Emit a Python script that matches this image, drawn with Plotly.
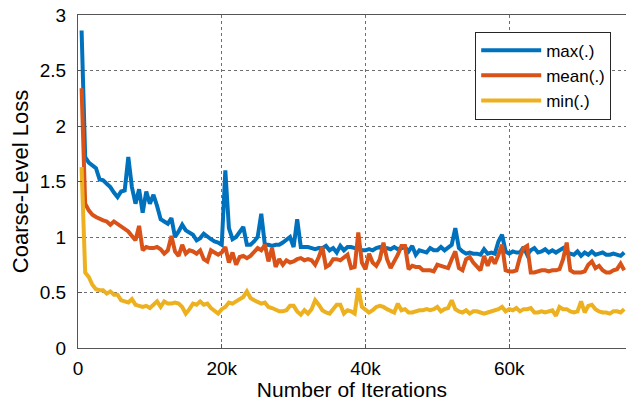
import plotly.graph_objects as go

iterations = [500 * k for k in range(1, 153)]

max_loss = [
    2.86, 1.72, 1.67, 1.64, 1.62, 1.52, 1.51, 1.48, 1.45, 1.40,
    1.36, 1.41, 1.42, 1.72, 1.45, 1.30, 1.43, 1.22, 1.41, 1.30,
    1.38, 1.28, 1.16, 1.14, 1.12, 1.17, 1.00, 1.05, 1.11, 1.06,
    1.04, 1.02, 0.97, 0.99, 1.03, 1.00, 0.98, 0.96, 0.95, 0.93,
    1.60, 1.08, 0.98, 1.00, 1.05, 1.09, 0.93, 0.93, 0.96, 1.00,
    1.21, 0.93, 0.93, 0.92, 0.93, 0.93, 0.95, 0.97, 1.00, 0.91,
    1.16, 0.91, 0.91, 0.91, 0.90, 0.89, 0.90, 0.90, 0.92, 0.88,
    0.90, 0.86, 0.92, 0.88, 0.91, 0.91, 0.90, 0.90, 0.88, 0.88,
    0.89, 0.88, 0.90, 0.91, 0.88, 0.90, 0.89, 0.91, 0.89, 0.90,
    0.91, 0.87, 0.92, 0.84, 0.88, 0.87, 0.86, 0.90, 0.88, 0.88,
    0.91, 0.88, 0.90, 0.93, 1.08, 0.90, 0.87, 0.85, 0.86, 0.85,
    0.85, 0.84, 0.89, 0.85, 0.86, 0.85, 0.96, 1.02, 0.87, 0.85,
    0.87, 0.86, 0.86, 0.91, 0.84, 0.88, 0.90, 0.86, 0.87, 0.89,
    0.86, 0.88, 0.86, 0.88, 0.90, 0.86, 0.85, 0.84, 0.87, 0.83,
    0.86, 0.84, 0.87, 0.84, 0.85, 0.86, 0.84, 0.84, 0.85, 0.84,
    0.83, 0.86,
]

mean_loss = [
    2.34, 1.30, 1.24, 1.20, 1.18, 1.16, 1.15, 1.14, 1.11, 1.14,
    1.12, 1.10, 1.08, 1.05, 1.01, 0.97, 1.10, 0.88, 0.91, 0.90,
    0.90, 0.91, 0.89, 0.85, 0.88, 1.01, 0.87, 0.83, 0.93, 0.85,
    0.88, 0.87, 0.85, 0.88, 0.80, 0.78, 0.88, 0.86, 0.84, 0.86,
    0.91, 0.77, 0.86, 0.75, 0.82, 0.83, 0.81, 0.83, 0.86, 0.90,
    0.88, 0.93, 0.78, 0.90, 0.73, 0.80, 0.75, 0.79, 0.77, 0.78,
    0.80, 0.81, 0.79, 0.80, 0.79, 0.75, 0.82, 0.91, 0.73, 0.75,
    0.80, 0.80, 0.79, 0.82, 0.84, 0.72, 0.73, 1.04, 0.77, 0.71,
    0.85, 0.77, 0.74, 0.80, 0.95, 0.80, 0.72, 0.78, 0.84, 0.92,
    0.92, 0.71, 0.74, 0.73, 0.73, 0.70, 0.70, 0.70, 0.69, 0.75,
    0.74, 0.73, 0.72, 0.80, 0.87, 0.72, 0.70, 0.80, 0.82, 0.77,
    0.73, 0.70, 0.83, 0.74, 0.82, 0.76, 0.84, 0.93, 0.70, 0.69,
    0.69, 0.70, 0.82, 0.90, 0.92, 0.68, 0.68, 0.69, 0.70, 0.70,
    0.69, 0.70, 0.70, 0.71, 0.80, 0.95, 0.70, 0.68, 0.68, 0.68,
    0.69, 0.75, 0.78, 0.72, 0.74, 0.70, 0.68, 0.68, 0.70, 0.71,
    0.76, 0.70,
]

min_loss = [
    1.63, 0.68, 0.64, 0.57, 0.53, 0.52, 0.52, 0.49, 0.51, 0.48,
    0.48, 0.43, 0.42, 0.41, 0.44, 0.39, 0.38, 0.37, 0.38, 0.36,
    0.39, 0.42, 0.37, 0.42, 0.40, 0.40, 0.41, 0.40, 0.37, 0.31,
    0.35, 0.40, 0.39, 0.42, 0.39, 0.40, 0.36, 0.33, 0.31, 0.35,
    0.37, 0.41, 0.40, 0.42, 0.44, 0.46, 0.51, 0.45, 0.43, 0.41,
    0.40, 0.41, 0.37, 0.36, 0.34, 0.33, 0.33, 0.34, 0.38, 0.38,
    0.33, 0.30, 0.34, 0.31, 0.35, 0.43, 0.39, 0.34, 0.32, 0.31,
    0.35, 0.39, 0.39, 0.31, 0.34, 0.33, 0.31, 0.54, 0.37, 0.34,
    0.32, 0.34, 0.37, 0.38, 0.37, 0.35, 0.33, 0.32, 0.40, 0.34,
    0.35, 0.32, 0.32, 0.33, 0.34, 0.34, 0.35, 0.34, 0.35, 0.37,
    0.33, 0.35, 0.36, 0.43, 0.35, 0.33, 0.32, 0.34, 0.31, 0.33,
    0.33, 0.32, 0.31, 0.32, 0.33, 0.34, 0.35, 0.37, 0.33, 0.35,
    0.34, 0.36, 0.33, 0.35, 0.35, 0.36, 0.32, 0.32, 0.33, 0.32,
    0.33, 0.34, 0.29, 0.37, 0.35, 0.35, 0.33, 0.32, 0.33, 0.42,
    0.32, 0.38, 0.39, 0.35, 0.33, 0.32, 0.32, 0.31, 0.33, 0.33,
    0.32, 0.35,
]

series_names = ["max(.)", "mean(.)", "min(.)"]
series_colors = ["#0072BD", "#D95319", "#EDB120"]
x_tick_vals = [0, 20000, 40000, 60000]
x_tick_text = ["0", "20k", "40k", "60k"]
y_tick_vals = [0, 0.5, 1, 1.5, 2, 2.5, 3]
y_tick_text = ["0", "0.5", "1", "1.5", "2", "2.5", "3"]

fig = go.Figure()
for name, vals, col in zip(series_names, [max_loss, mean_loss, min_loss], series_colors):
    fig.add_trace(go.Scatter(x=iterations, y=vals, mode="lines", name=name,
                             line=dict(color=col, width=4)))

font_family = "Liberation Sans, Arial, sans-serif"
grid_col = "rgba(50,50,50,0.7)"
fig.update_layout(
    width=626, height=401,
    margin=dict(l=78, r=0, t=15, b=53, autoexpand=False),
    paper_bgcolor="white", plot_bgcolor="white",
    font=dict(family=font_family, size=19, color="#262626"),
    showlegend=True,
    legend=dict(x=0.973, y=0.95, xanchor="right", yanchor="top",
                bgcolor="white", bordercolor="#262626", borderwidth=1,
                font=dict(size=17, color="#000000"),
                tracegroupgap=0, itemwidth=60),
)
fig.update_xaxes(range=[0, 76250], tickvals=x_tick_vals, ticktext=x_tick_text,
                 automargin=False,
                 showgrid=True, gridcolor=grid_col, griddash="dot", gridwidth=1,
                 showline=True, linecolor="#555555", linewidth=1, mirror=True,
                 ticks="inside", ticklen=4, tickcolor="#555555",
                 ticklabelstandoff=3,
                 zeroline=False,
                 title=dict(text="Number of Iterations", font=dict(size=21, color="#000000"),
                            standoff=5),
                 tickfont=dict(size=19, color="#000000"))
fig.update_yaxes(range=[0, 3], tickvals=y_tick_vals, ticktext=y_tick_text,
                 automargin=False,
                 showgrid=True, gridcolor=grid_col, griddash="dot", gridwidth=1,
                 showline=True, linecolor="#555555", linewidth=1, mirror=False,
                 ticks="inside", ticklen=4, tickcolor="#555555",
                 ticklabelstandoff=7,
                 zeroline=False,
                 title=dict(text="Coarse-Level Loss", font=dict(size=22, color="#000000"),
                            standoff=5),
                 tickfont=dict(size=19, color="#000000"))

fig.write_html("out.html", config={"displayModeBar": False},
               post_script="document.body.style.margin='0px';")
